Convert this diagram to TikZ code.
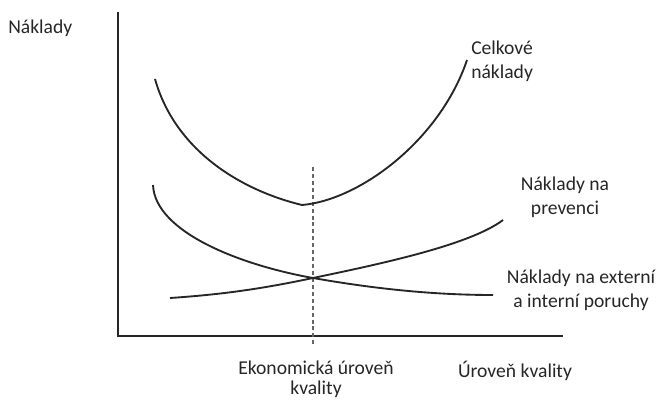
\documentclass[tikz,border=0pt]{standalone}
\usepackage{fontspec}
\setmainfont{Carlito}
\begin{document}
\begin{tikzpicture}[x=0.75pt,y=-0.75pt,
  axis/.style={line width=1.5pt,black!85},
  curve/.style={line width=1.4pt,black!85},
  guide/.style={line width=0.8pt,black!60,dash pattern=on 3pt off 2.2pt},
  lbl/.style={inner sep=0pt,align=center,font=\fontsize{14.7}{18}\selectfont,text=black!85}]
\useasboundingbox (0,0) rectangle (666,399);
% axes
\coordinate (top) at (118,12);
\coordinate (origin) at (118,336);
\coordinate (xend) at (563,336);
\draw[axis] (top) -- (origin) -- (xend);
% economic quality level
\coordinate (gtop) at (313,167);
\coordinate (gbot) at (313,344);
\draw[guide] (gtop) -- (gbot);
% total costs
\coordinate (t0) at (155,79);
\coordinate (tmin) at (302,205);
\coordinate (t1) at (467,60);
\draw[curve] (t0) .. controls (175,150) and (240,190) .. (tmin)
  .. controls (360,200) and (440,140) .. (t1);
% prevention costs
\coordinate (p0) at (170,298);
\coordinate (cross) at (313,278);
\coordinate (p1) at (503,220);
\draw[curve] (p0) .. controls (230,294) and (270,287) .. (cross)
  .. controls (380,264) and (470,245) .. (p1);
% failure costs
\coordinate (f0) at (153,185);
\coordinate (f1) at (493,295);
\draw[curve] (f0) .. controls (155,232) and (240,265) .. (cross)
  .. controls (370,288) and (430,295) .. (f1);
% labels
\node[lbl,anchor=west] (ylab) at (8,28) {Náklady};
\node[lbl,anchor=west,align=left] (total) at (471,61) {Celkové\\náklady};
\node[lbl] (prev) at (565,197) {Náklady na\\prevenci};
\node[lbl] (fail) at (581,290) {Náklady na externí\\a interní poruchy};
\node[lbl,font=\fontsize{14.7}{15}\selectfont,anchor=north] (econ) at (316,361) {Ekonomická úroveň\\kvality};
\node[lbl] (xlab) at (515,371) {Úroveň kvality};
\end{tikzpicture}
\end{document}
